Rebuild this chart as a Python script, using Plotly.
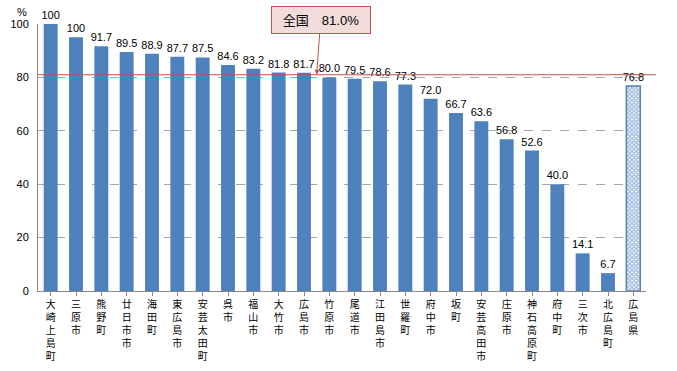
import plotly.graph_objects as go

categories = ["大崎上島町", "三原市", "熊野町", "廿日市市", "海田町", "東広島市", "安芸太田町",
              "呉市", "福山市", "大竹市", "広島市", "竹原市", "尾道市", "江田島市", "世羅町",
              "府中市", "坂町", "安芸高田市", "庄原市", "神石高原町", "府中町", "三次市",
              "北広島町", "広島県"]
values = [100, 95.0, 91.7, 89.5, 88.9, 87.7, 87.5, 84.6, 83.2, 81.8, 81.7, 80.0, 79.5, 78.6,
          77.3, 72.0, 66.7, 63.6, 56.8, 52.6, 40.0, 14.1, 6.7, 76.8]
value_labels = ["100", "100", "91.7", "89.5", "88.9", "87.7", "87.5", "84.6", "83.2", "81.8",
                "81.7", "80.0", "79.5", "78.6", "77.3", "72.0", "66.7", "63.6", "56.8", "52.6",
                "40.0", "14.1", "6.7", "76.8"]
national_value = 81.0
national_label = "全国　81.0%"
y_ticks = [0, 20, 40, 60, 80, 100]

BLUE = "#4f81bd"
RED = "#c0504d"
FONT = "Arial, Liberation Sans, Noto Sans CJK JP"

vertical_labels = ["<br>".join(list(c)) for c in categories]
x_idx = list(range(len(categories)))

muni_x = x_idx[:-1]
pref_x = x_idx[-1:]

fig = go.Figure()
fig.add_trace(go.Bar(
    x=muni_x, y=values[:-1], text=value_labels[:-1], textposition="outside",
    constraintext="none",
    marker=dict(color=BLUE, line=dict(width=0)), width=0.55, cliponaxis=False,
    textfont=dict(size=11, color="black", family=FONT),
))
fig.add_trace(go.Bar(
    x=pref_x, y=values[-1:], text=value_labels[-1:], textposition="outside",
    constraintext="none",
    marker=dict(color="white", line=dict(color=BLUE, width=1.5),
                pattern=dict(shape="x", fgcolor=BLUE, bgcolor="white", size=3, solidity=0.7)),
    width=0.55, cliponaxis=False,
    textfont=dict(size=11, color="black", family=FONT),
))

fig.add_shape(type="line", xref="paper", yref="y", x0=0, x1=1.016,
              y0=national_value, y1=national_value, line=dict(color=RED, width=1.2))

fig.add_annotation(x=10.5, y=national_value, xref="x", yref="y", text=national_label,
                   showarrow=True, arrowhead=2, arrowsize=1, arrowwidth=1, arrowcolor=RED,
                   ax=4, ay=-55, bgcolor="#f2dcdb", bordercolor=RED, borderwidth=1,
                   borderpad=5, width=88, height=16, align="center",
                   font=dict(size=13, color="black", family=FONT))

fig.add_annotation(x=-0.015, y=1.045, xref="paper", yref="paper", text="%",
                   showarrow=False, xanchor="right", yanchor="middle",
                   font=dict(size=11, color="black", family=FONT))

fig.update_layout(
    width=677, height=371, margin=dict(l=38, r=31, t=24, b=80),
    paper_bgcolor="white", plot_bgcolor="white", showlegend=False,
    bargap=0.45, font=dict(family=FONT, color="black"),
)
fig.update_xaxes(
    tickmode="array", tickvals=x_idx, ticktext=vertical_labels,
    range=[-0.5, len(categories) - 0.5], tickangle=0, automargin=False,
    showline=True, linecolor="#868686", linewidth=1,
    ticks="outside", tickson="boundaries", ticklen=4, tickcolor="#868686",
    tickfont=dict(size=10, family=FONT, color="black"), showgrid=False,
)
fig.update_yaxes(
    range=[0, 100], tickvals=y_ticks, showgrid=True, gridcolor="#a6a6a6",
    griddash="dash", gridwidth=1, showline=True, linecolor="#868686",
    tickfont=dict(size=11, family=FONT, color="black"), zeroline=False,
    ticks="", ticklabelstandoff=6, automargin=False,
)

fig.write_html("out.html", config={"displayModeBar": False},
               post_script="document.body.style.margin='0';document.body.style.overflow='hidden';")
